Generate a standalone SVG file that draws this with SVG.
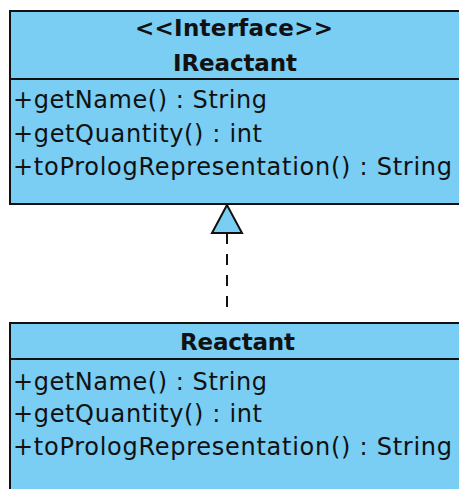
<svg xmlns="http://www.w3.org/2000/svg" width="459" height="489" viewBox="0 0 459 489">
<style>
.box{fill:#7acdf3;stroke:#111;stroke-width:2}
.div{stroke:#111;stroke-width:2}
.t{font-family:"DejaVu Sans",sans-serif;font-size:24px;fill:#111}
.b{font-family:"DejaVu Sans",sans-serif;font-size:23px;font-weight:bold;fill:#111;text-anchor:middle}
</style>
<rect width="459" height="489" fill="#fff"/>
<g id="IReactant">
<rect class="box" x="10" y="11" width="460" height="193"/>
<line class="div" x1="10" y1="79" x2="470" y2="79"/>
<text class="b" x="234" y="36" textLength="198" lengthAdjust="spacing">&lt;&lt;Interface&gt;&gt;</text>
<text class="b" x="235" y="71" textLength="124" lengthAdjust="spacing">IReactant</text>
<text class="t" x="13" y="108" textLength="254" lengthAdjust="spacing">+getName() : String</text>
<text class="t" x="13" y="142" textLength="249" lengthAdjust="spacing">+getQuantity() : int</text>
<text class="t" x="13" y="175" textLength="439" lengthAdjust="spacing">+toPrologRepresentation() : String</text>
</g>
<g id="Reactant">
<rect class="box" x="10" y="323" width="460" height="180"/>
<line class="div" x1="10" y1="359" x2="470" y2="359"/>
<text class="b" x="237.5" y="350" textLength="115" lengthAdjust="spacing">Reactant</text>
<text class="t" x="13" y="390" textLength="254" lengthAdjust="spacing">+getName() : String</text>
<text class="t" x="13" y="422" textLength="249" lengthAdjust="spacing">+getQuantity() : int</text>
<text class="t" x="13" y="455" textLength="439" lengthAdjust="spacing">+toPrologRepresentation() : String</text>
</g>
<g id="connectors">
<line x1="227" y1="233" x2="227" y2="312" stroke="#111" stroke-width="2" stroke-dasharray="11,10"/>
<polygon points="227,205 212,233 242,233" fill="#7acdf3" stroke="#111" stroke-width="2"/>
</g>
</svg>
